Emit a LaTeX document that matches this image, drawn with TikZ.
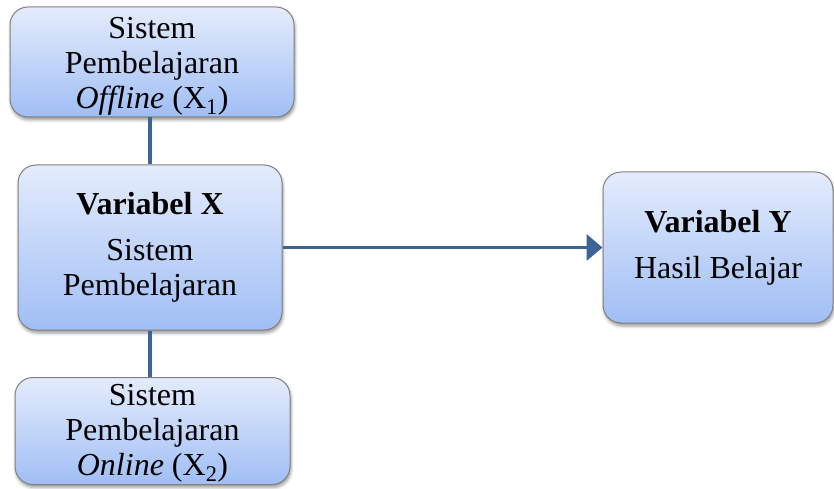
\documentclass[tikz,border=0pt]{standalone}
\usepackage{fontspec}
\setmainfont{Liberation Serif}
\usetikzlibrary{shadows.blur,arrows.meta}
\definecolor{lineblue}{RGB}{62,100,150}
\definecolor{boxtop}{RGB}{228,236,252}
\definecolor{boxbot}{RGB}{160,190,245}
\definecolor{boxborder}{RGB}{128,128,128}
\newcommand{\topstrut}{\rule{0pt}{30pt}}
\newcommand{\botstrut}{\rule{0pt}{26pt}}
\tikzset{
  vbox/.style={draw=boxborder, line width=1pt, rounded corners=18pt,
    top color=boxtop, bottom color=boxbot, align=center,
    font=\fontsize{32}{35}\selectfont, inner sep=0pt,
    blur shadow={shadow xshift=1pt, shadow yshift=-3pt, shadow blur radius=3pt, shadow opacity=40}},
  conn/.style={draw=lineblue, line width=3.8pt},
}
\begin{document}
\begin{tikzpicture}[x=1pt,y=1pt]
\useasboundingbox (0,0) rectangle (834,488);
\node[vbox, minimum width=284pt, minimum height=110pt] (top) at (152,426)
  {\topstrut Sistem\\Pembelajaran\\\textit{Offline} (X\textsubscript{1})};
\node[vbox, minimum width=264pt, minimum height=165pt] (mid) at (150,240.5)
  {\textbf{Variabel X}\\[11pt]Sistem\\Pembelajaran};
\node[vbox, minimum width=230pt, minimum height=151pt] (right) at (718,240.5)
  {\textbf{Variabel Y}\\[11pt]Hasil Belajar};
\node[vbox, minimum width=275pt, minimum height=107pt] (bot) at (152.5,57)
  {\botstrut Sistem\\Pembelajaran\\\textit{Online} (X\textsubscript{2})};
\draw[conn] (mid.north) -- (mid.north |- top.south);
\draw[conn] (mid.south) -- (mid.south |- bot.north);
\draw[conn, -{Triangle[length=16pt,width=26pt]}] (mid.east) -- (right.west);
\end{tikzpicture}
\end{document}
